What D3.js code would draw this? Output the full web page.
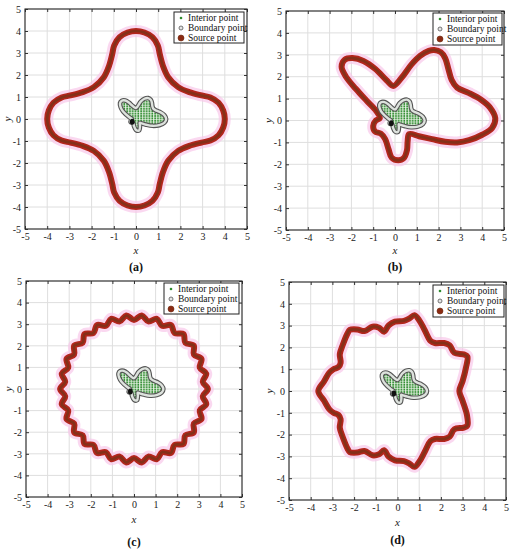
<!DOCTYPE html>
<html><head><meta charset="utf-8">
<script src="https://cdn.jsdelivr.net/npm/d3@7"></script>
<style>body{margin:0;background:#fff}svg{display:block}text{font-family:"Liberation Serif","Times New Roman",serif}</style>
</head><body>
<svg id="chart" width="514" height="550"></svg>
<script>
// ---------------- data ----------------
const tickValues = [-5,-4,-3,-2,-1,0,1,2,3,4,5];
const tickLabels = ["-5","-4","-3","-2","-1","0","1","2","3","4","5"];
const legendLabels = ["Interior point","Boundary point","Source point"];
const panelCaptions = ["(a)","(b)","(c)","(d)"];

// butterfly domain outline (x,y)
const butterfly = [
 [1.36,0],[1.28,0.17],[1.11,0.30],[0.92,0.38],[0.79,0.46],[0.74,0.57],[0.72,0.72],[0.67,0.87],
 [0.55,0.95],[0.38,0.92],[0.21,0.79],[0,0.5],[-0.16,0.60],[-0.31,0.74],[-0.48,0.84],[-0.64,0.83],
 [-0.72,0.72],[-0.69,0.53],[-0.58,0.34],[-0.30,0.08],[-0.18,0],[-0.23,-0.06],[-0.24,-0.14],[-0.17,-0.17],
 [-0.12,-0.20],[-0.09,-0.33],[0,-0.5],[0.14,-0.52],[0.18,-0.32],[0.17,-0.17],[0.26,-0.20],[0.46,-0.26],
 [0.74,-0.31],[1.05,-0.28],[1.28,-0.17]
];

// (a) four-lobed source curve
const sourceA = [
 [4,0],[3.93,0.38],[3.72,0.74],[3.35,0.98],[2.95,1.07],[2.4,1.22],[1.9,1.45],
 [1.45,1.9],[1.22,2.4],[1.07,2.95],[0.98,3.35],[0.74,3.72],[0.38,3.93],
 [0,4],[-0.38,3.93],[-0.74,3.72],[-0.98,3.35],[-1.07,2.95],[-1.22,2.4],[-1.45,1.9],
 [-1.9,1.45],[-2.4,1.22],[-2.95,1.07],[-3.35,0.98],[-3.72,0.74],[-3.93,0.38],
 [-4,0],[-3.93,-0.38],[-3.72,-0.74],[-3.35,-0.98],[-2.95,-1.07],[-2.4,-1.22],[-1.9,-1.45],
 [-1.45,-1.9],[-1.22,-2.4],[-1.07,-2.95],[-0.98,-3.35],[-0.74,-3.72],[-0.38,-3.93],
 [0,-4],[0.38,-3.93],[0.74,-3.72],[0.98,-3.35],[1.07,-2.95],[1.22,-2.4],[1.45,-1.9],
 [1.9,-1.45],[2.4,-1.22],[2.95,-1.07],[3.35,-0.98],[3.72,-0.74],[3.93,-0.38]
];

// (b) irregular source curve
const sourceB = [
 [-0.08,1.58],[0.3,1.95],[0.75,2.55],[1.15,2.95],[1.55,3.18],[1.8,3.22],[2.1,3.12],[2.3,2.85],
 [2.45,2.35],[2.6,1.85],[2.85,1.5],[3.4,1.25],[3.95,0.95],[4.35,0.6],[4.6,0.1],[4.45,-0.35],
 [4.0,-0.65],[3.4,-0.9],[2.85,-1.0],[2.3,-0.97],[1.7,-0.85],[1.1,-0.72],[0.65,-0.62],[0.58,-0.95],
 [0.55,-1.35],[0.4,-1.72],[0.15,-1.82],[-0.15,-1.7],[-0.3,-1.3],[-0.45,-0.85],[-0.65,-0.6],[-0.92,-0.5],
 [-1.0,-0.25],[-0.88,0.0],[-0.7,0.1],[-0.85,0.42],[-1.3,0.9],[-1.8,1.45],[-2.25,2.0],[-2.45,2.45],
 [-2.3,2.78],[-1.95,2.85],[-1.45,2.72],[-0.9,2.35],[-0.4,1.85]
];

// (c) wavy circle: polar angle (deg) and radius
const sourceCAngle = [0,6,12,18,24,30,36,42,48,54,60,66,72,78,84,90,96,102,108,114,120,126,132,138,144,150,156,162,168,174,
 180,186,192,198,204,210,216,222,228,234,240,246,252,258,264,270,276,282,288,294,300,306,312,318,324,330,336,342,348,354];
const sourceCRadius = [3.42,3.2,3.42,3.2,3.42,3.2,3.42,3.2,3.42,3.2,3.42,3.2,3.42,3.2,3.42,3.2,3.42,3.2,3.42,3.2,
 3.42,3.2,3.42,3.2,3.42,3.2,3.42,3.2,3.42,3.2,3.42,3.2,3.42,3.2,3.42,3.2,3.42,3.2,3.42,3.2,
 3.42,3.2,3.42,3.2,3.42,3.2,3.42,3.2,3.42,3.2,3.42,3.2,3.42,3.2,3.42,3.2,3.42,3.2,3.42,3.2];

// (d) star-like wavy curve
const sourceD = [
 [-3.65,0],[-3.38,0.45],[-3.15,0.83],[-2.95,1.0],[-2.72,1.1],[-2.62,1.3],[-2.66,1.68],[-2.52,2.12],
 [-2.3,2.65],[-2.2,2.8],[-1.85,2.82],[-1.52,2.75],[-1.15,2.95],[-0.85,2.9],[-0.62,2.72],[-0.4,3.02],
 [-0.12,3.18],[0.3,3.22],[0.55,3.33],[0.78,3.48],[1.0,3.25],[1.25,2.8],[1.52,2.3],[1.72,2.2],
 [2.15,2.2],[2.4,2.1],[2.62,1.75],[3.05,1.68],[3.22,1.58],[3.15,1.05],[3.0,0.45],[2.85,0],
 [3.0,-0.45],[3.2,-1.1],[3.22,-1.58],[3.05,-1.68],[2.62,-1.75],[2.4,-2.1],[2.15,-2.2],[1.72,-2.2],
 [1.52,-2.3],[1.25,-2.8],[1.0,-3.25],[0.78,-3.48],[0.55,-3.33],[0.3,-3.22],[-0.12,-3.18],[-0.4,-3.02],
 [-0.62,-2.72],[-0.85,-2.9],[-1.15,-2.95],[-1.52,-2.75],[-1.85,-2.82],[-2.2,-2.8],[-2.3,-2.65],[-2.52,-2.12],
 [-2.66,-1.68],[-2.62,-1.3],[-2.72,-1.1],[-2.95,-1.0],[-3.15,-0.83],[-3.38,-0.45]
];
const sourceC = sourceCAngle.map((a,i)=>[sourceCRadius[i]*Math.cos(a*Math.PI/180), sourceCRadius[i]*Math.sin(a*Math.PI/180)]);

// ---------------- layout ----------------
const panels = [
 {src:sourceA, x0:25, x1:247, y0:9,   y1:229, leg:[174,12,70,31], xl:254, cap:271, yl:8},
 {src:sourceB, x0:286,x1:504, y0:11,  y1:230, leg:[433,13,69,32], xl:254, cap:271, yl:269},
 {src:sourceC, x0:26, x1:242, y0:281, y1:497, leg:[164,283,75,31], xl:523, cap:546, yl:9},
 {src:sourceD, x0:289,x1:506, y0:282, y1:500, leg:[433,285,71,32], xl:526, cap:544, yl:270}
];
const FONT = "Liberation Serif, Times New Roman, serif";
const svg = d3.select("#chart");
const defs = svg.append("defs");
const pat = defs.append("pattern").attr("id","interior").attr("patternUnits","userSpaceOnUse")
  .attr("width",2.8).attr("height",2.4);
pat.append("rect").attr("width",2.8).attr("height",2.4).attr("fill","#f2f8ef");
pat.append("rect").attr("x",0.3).attr("y",0).attr("width",1.7).attr("height",1.9).attr("fill","#2e8b2e");

panels.forEach((p,pi)=>{
  const sx = d3.scaleLinear().domain([-5,5]).range([p.x0,p.x1]);
  const sy = d3.scaleLinear().domain([-5,5]).range([p.y1,p.y0]);
  const g = svg.append("g");
  g.append("rect").attr("x",p.x0).attr("y",p.y0).attr("width",p.x1-p.x0).attr("height",p.y1-p.y0).attr("fill","#fff");
  // grid
  g.selectAll(".gx").data(tickValues).join("line")
    .attr("x1",d=>sx(d)).attr("x2",d=>sx(d)).attr("y1",p.y0).attr("y2",p.y1)
    .attr("stroke","#dedede").attr("stroke-width",1);
  g.selectAll(".gy").data(tickValues).join("line")
    .attr("y1",d=>sy(d)).attr("y2",d=>sy(d)).attr("x1",p.x0).attr("x2",p.x1)
    .attr("stroke","#dedede").attr("stroke-width",1);

  const line = d3.line().x(d=>sx(d[0])).y(d=>sy(d[1])).curve(d3.curveCatmullRomClosed.alpha(0.5));

  // source curve
  g.append("path").attr("d",line(p.src)).attr("fill","none").attr("stroke","#f8c8ea").attr("stroke-width",12).attr("stroke-opacity",0.7).attr("stroke-linejoin","round");
  g.append("path").attr("d",line(p.src)).attr("fill","none").attr("stroke","#b3261c").attr("stroke-width",6).attr("stroke-linejoin","round");
  g.append("path").attr("d",line(p.src)).attr("fill","none").attr("stroke","#553a15").attr("stroke-width",2.6).attr("stroke-opacity",0.5).attr("stroke-linejoin","round");

  // butterfly
  g.append("path").attr("d",line(butterfly)).attr("fill","url(#interior)");
  g.append("path").attr("d",line(butterfly)).attr("fill","none").attr("stroke","#555").attr("stroke-width",4.6).attr("stroke-linejoin","round");
  g.append("path").attr("d",line(butterfly)).attr("fill","none").attr("stroke","#dde2dd").attr("stroke-width",2.4).attr("stroke-linejoin","round");
  g.append("ellipse").attr("cx",sx(-0.17)).attr("cy",sy(-0.12)).attr("rx",2.4).attr("ry",3).attr("fill","#111");

  // axes
  const ax = g.append("g").attr("transform",`translate(0,${p.y1})`)
    .call(d3.axisBottom(sx).tickValues(tickValues).tickFormat((d,i)=>tickLabels[i]).tickSizeInner(-3).tickSizeOuter(0).tickPadding(4));
  const ay = g.append("g").attr("transform",`translate(${p.x0},0)`)
    .call(d3.axisLeft(sy).tickValues(tickValues).tickFormat((d,i)=>tickLabels[i]).tickSizeInner(-3).tickSizeOuter(0).tickPadding(4));
  const at = g.append("g").attr("transform",`translate(0,${p.y0})`)
    .call(d3.axisTop(sx).tickValues(tickValues).tickFormat("").tickSizeInner(-3).tickSizeOuter(0));
  const ar = g.append("g").attr("transform",`translate(${p.x1},0)`)
    .call(d3.axisRight(sy).tickValues(tickValues).tickFormat("").tickSizeInner(-3).tickSizeOuter(0));
  [ax,ay,at,ar].forEach(a=>{
    a.select(".domain").remove();
    a.selectAll("line").attr("stroke","#333");
    a.selectAll("text").attr("font-family",FONT).attr("font-size",10).attr("fill","#222");
  });
  g.append("rect").attr("x",p.x0).attr("y",p.y0).attr("width",p.x1-p.x0).attr("height",p.y1-p.y0)
    .attr("fill","none").attr("stroke","#2a2a2a").attr("stroke-width",1.1);

  // axis labels
  const cx = (p.x0+p.x1)/2;
  g.append("text").attr("x",cx).attr("y",p.xl).attr("text-anchor","middle")
    .attr("font-family",FONT).attr("font-size",11).attr("font-style","italic").attr("fill","#222").text("x");
  g.append("text").attr("transform",`translate(${p.yl+3},${(p.y0+p.y1)/2}) rotate(-90)`).attr("text-anchor","middle")
    .attr("font-family",FONT).attr("font-size",11).attr("font-style","italic").attr("fill","#222").text("y");
  g.append("text").attr("x",cx).attr("y",p.cap).attr("text-anchor","middle")
    .attr("font-family",FONT).attr("font-size",12).attr("font-weight","bold").attr("fill","#111").text(panelCaptions[pi]);

  // legend
  const [lx,ly,lw,lh] = p.leg;
  const lg = g.append("g");
  lg.append("rect").attr("x",lx).attr("y",ly).attr("width",lw).attr("height",lh).attr("fill","#fff").attr("stroke","#222").attr("stroke-width",1);
  legendLabels.forEach((t,i)=>{
    const yy = ly+6+i*10;
    if(i===0) lg.append("circle").attr("cx",lx+7).attr("cy",yy).attr("r",1.3).attr("fill","#2e8b2e");
    if(i===1) lg.append("circle").attr("cx",lx+7).attr("cy",yy).attr("r",2).attr("fill","#e4e4e4").attr("stroke","#555").attr("stroke-width",0.8);
    if(i===2) lg.append("circle").attr("cx",lx+7).attr("cy",yy).attr("r",3).attr("fill","#8b2a12").attr("stroke","#6b2a10").attr("stroke-width",0.6);
    lg.append("text").attr("x",lx+14).attr("y",yy+3.3).attr("font-family",FONT).attr("font-size",9.5).attr("fill","#111").text(t);
  });
});
</script>
</body></html>
